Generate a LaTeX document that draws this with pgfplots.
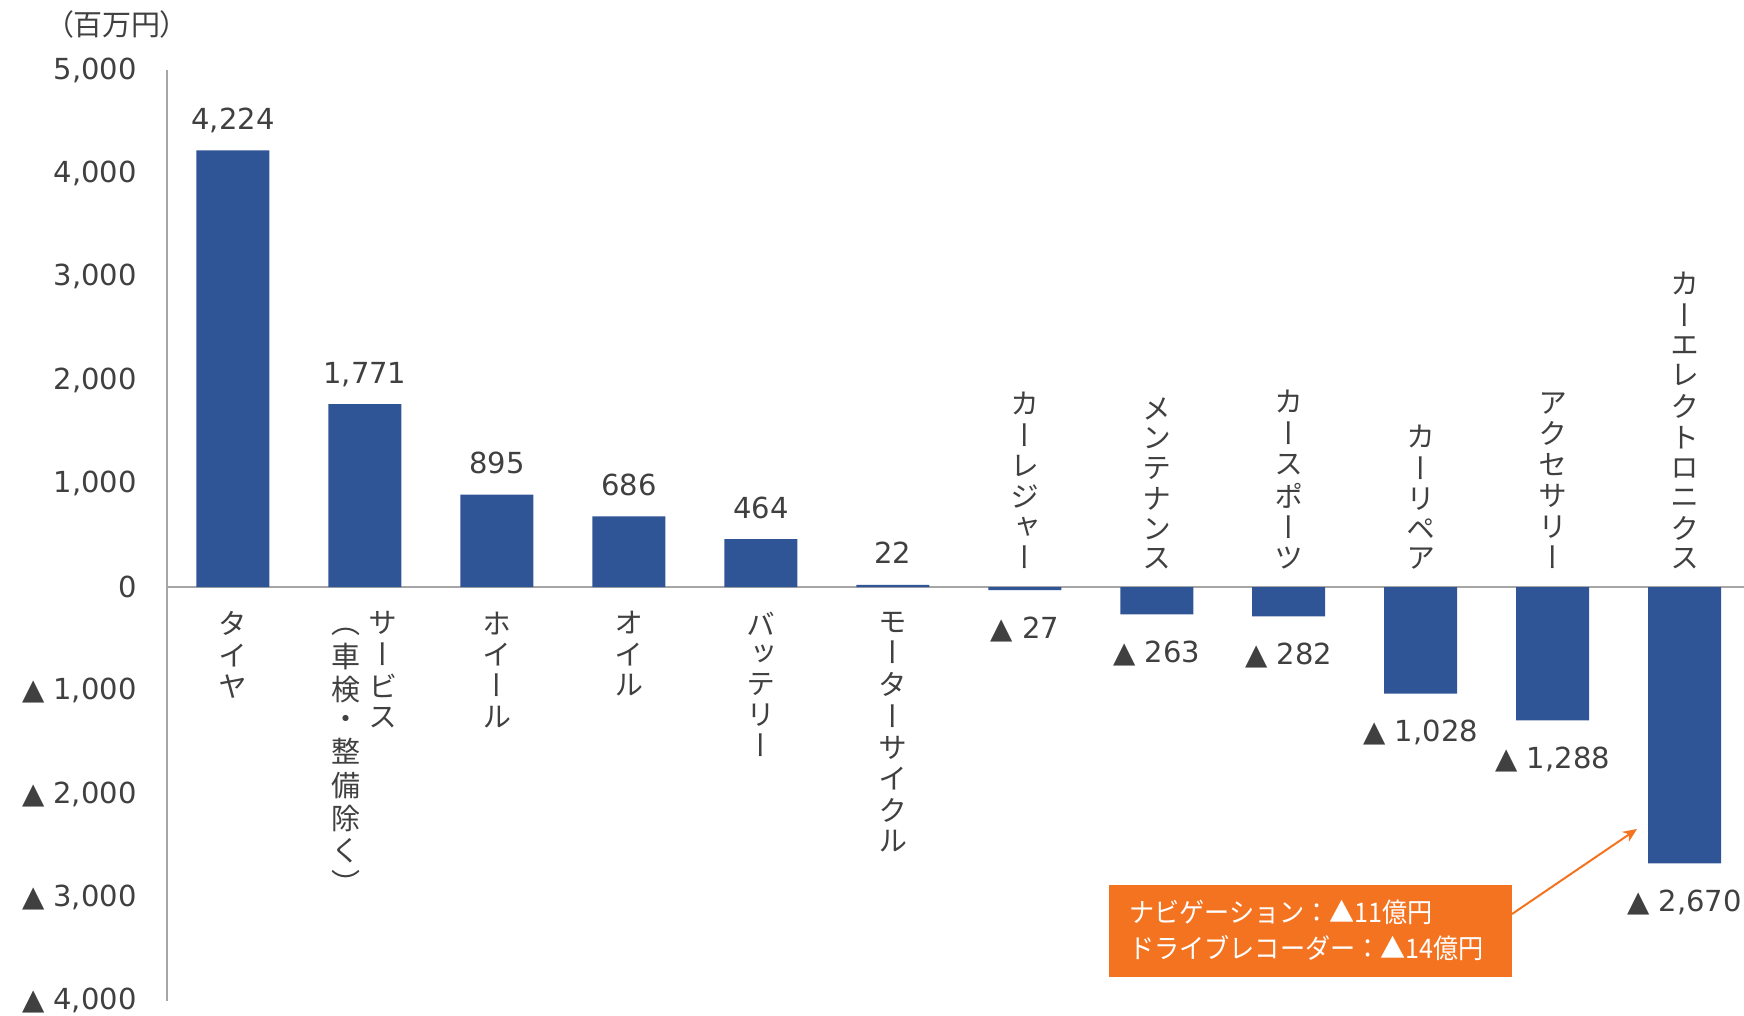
\documentclass[border=0pt]{standalone}
\usepackage{pgfplots}
\pgfplotsset{compat=1.18}
\usepackage{pgfplotstable}
\usepackage{fontspec}
\usetikzlibrary{arrows.meta}
\setmainfont{DejaVu Sans}
\newfontfamily\jp{Noto Sans CJK JP}
\newfontfamily\jpv[RawFeature=+vert]{Noto Sans CJK JP}
\newfontfamily\jpp[RawFeature=+palt]{Noto Sans CJK JP}
\definecolor{barc}{HTML}{2F5597}
\definecolor{txt}{HTML}{404040}
\definecolor{axc}{HTML}{A6A6A6}
\definecolor{org}{HTML}{F47321}

\newcommand{\vcol}[1]{{\jpv\fontsize{14.5}{14.75}\selectfont\begin{tabular}[t]{@{}c@{}}#1\end{tabular}}}
\newcommand\catA{\vcol{タ\\イ\\ヤ}}
\newcommand\catB{\mbox{\vcol{（\\車\\検\\・\\整\\備\\除\\く\\）}\hspace{4pt}\vcol{サ\\ー\\ビ\\ス}}}
\newcommand\catC{\vcol{ホ\\イ\\ー\\ル}}
\newcommand\catD{\vcol{オ\\イ\\ル}}
\newcommand\catE{\vcol{バ\\ッ\\テ\\リ\\ー}}
\newcommand\catF{\vcol{モ\\ー\\タ\\ー\\サ\\イ\\ク\\ル}}
\newcommand\catG{\vcol{カ\\ー\\レ\\ジ\\ャ\\ー}}
\newcommand\catH{\vcol{メ\\ン\\テ\\ナ\\ン\\ス}}
\newcommand\catI{\vcol{カ\\ー\\ス\\ポ\\ー\\ツ}}
\newcommand\catJ{\vcol{カ\\ー\\リ\\ペ\\ア}}
\newcommand\catK{\vcol{ア\\ク\\セ\\サ\\リ\\ー}}
\newcommand\catL{\vcol{カ\\ー\\エ\\レ\\ク\\ト\\ロ\\ニ\\ク\\ス}}

\pgfplotstableread{
x y
0 4224
1 1771
2 895
3 686
4 464
5 22
}\postab
\pgfplotstableread{
x y v
6 -27 27
7 -263 263
8 -282 282
9 -1028 1028
10 -1288 1288
11 -2670 2670
}\negtab
\pgfplotstableread{
x y k
0 0 A
1 0 B
2 0 C
3 0 D
4 0 E
5 0 F
}\catpos
\pgfplotstableread{
x y k
6 0 G
7 0 H
8 0 I
9 0 J
10 0 K
11 0 L
}\catneg

\begin{document}
\begin{tikzpicture}
\path[use as bounding box] (0,0) rectangle (872pt,508pt);
\begin{axis}[
  at={(83.5pt,7.5pt)}, anchor=south west,
  scale only axis, width=788.5pt, height=465.5pt,
  xmin=-0.5, xmax=11.45, ymin=-4000, ymax=5000,
  axis x line=none, axis y line*=left,
  axis line style={axc, line width=0.75pt},
  ytick={-4000,-3000,-2000,-1000,0,1000,2000,3000,4000,5000},
  yticklabels={{▲ 4,000},{▲ 3,000},{▲ 2,000},{▲ 1,000},{0},{1,000},{2,000},{3,000},{4,000},{5,000}},
  major tick length=0pt,
  ytick style={draw=none},
  yticklabel style={font=\fontsize{14.5}{17}\selectfont, text=txt, inner sep=0pt, xshift=-15pt, anchor=east},
  extra y ticks={0}, extra y tick labels={},
  extra y tick style={grid=major, major grid style={axc, line width=0.75pt}},
  ybar, bar width=36.5pt,
  clip=false,
  /pgf/number format/.cd, fixed, precision=0, 1000 sep={,}, assume math mode=true,
]
\addplot[fill=barc, draw=none, bar shift=0pt,
  nodes near coords={\pgfmathprintnumber{\pgfplotspointmeta}},
  nodes near coords style={anchor=base, yshift=10.5pt, inner sep=0pt, text=txt, font=\fontsize{14.5}{17}\selectfont}]
  table[x=x,y=y] {\postab};
\addplot[fill=barc, draw=none, bar shift=0pt, point meta=explicit,
  nodes near coords={▲ \pgfmathprintnumber{\pgfplotspointmeta}},
  nodes near coords style={anchor=base, yshift=-24pt, inner sep=0pt, text=txt, font=\fontsize{14.5}{17}\selectfont}]
  table[x=x,y=y,meta=v] {\negtab};
\addplot[draw=none, fill=none, bar shift=0pt, point meta=explicit symbolic,
  nodes near coords={\csname cat\pgfplotspointmeta\endcsname},
  nodes near coords style={anchor=north, yshift=-12pt, inner sep=0pt, text=txt}]
  table[x=x,y=y,meta=k] {\catpos};
\addplot[draw=none, fill=none, bar shift=0pt, point meta=explicit symbolic,
  nodes near coords={\csname cat\pgfplotspointmeta\endcsname},
  nodes near coords style={anchor=south, yshift=4.5pt, inner sep=0pt, text=txt}]
  table[x=x,y=y,meta=k] {\catneg};
\end{axis}
\node[text=txt, inner sep=0pt] at (58.5pt,496pt) {\jpp\fontsize{14.5}{17}\selectfont （百万円）};
\fill[org] (554.5pt,19.5pt) rectangle (756pt,65.5pt);
\node[anchor=west, text=white, inner sep=0pt] at (564.5pt,52pt) {\scalebox{0.93}[1]{\jp\fontsize{13.5}{18}\selectfont ナビゲーション：▲11億円}};
\node[anchor=west, text=white, inner sep=0pt] at (564.5pt,34pt) {\scalebox{0.93}[1]{\jp\fontsize{13.5}{18}\selectfont ドライブレコーダー：▲14億円}};
\draw[org, line width=1pt, -{Stealth[length=7pt,width=6pt]}] (756pt,51pt) -- (818.5pt,93.5pt);
\end{tikzpicture}
\end{document}
